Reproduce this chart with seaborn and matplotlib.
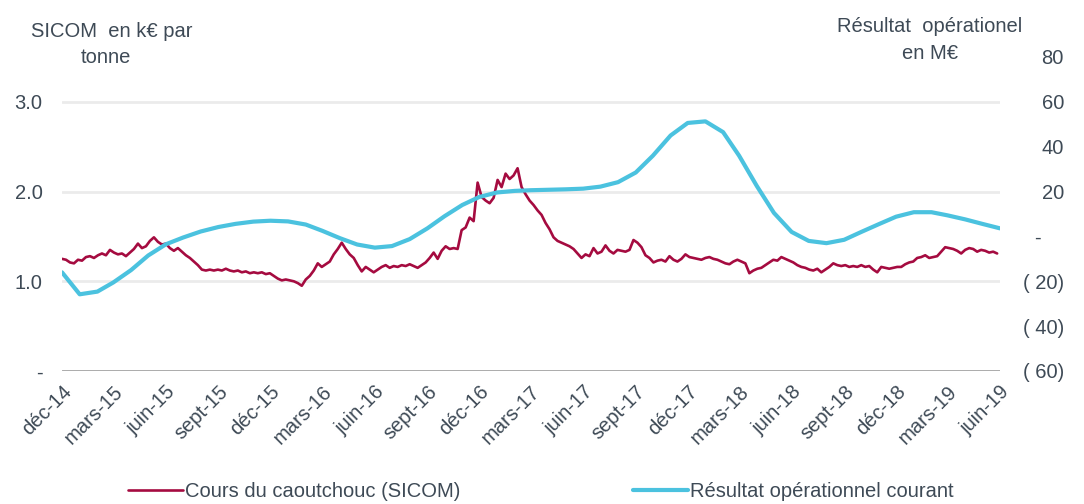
import pandas as pd
import matplotlib.pyplot as plt
import seaborn as sns

# SICOM rubber price, k€ per tonne (weekly, from Dec 2014)
sicom_start = '2014-12-01'
sicom = [
    1.25, 1.24, 1.21, 1.20, 1.24, 1.23, 1.27, 1.28, 1.26, 1.29, 1.31, 1.29, 1.35,
    1.32, 1.30, 1.31, 1.28, 1.32, 1.36, 1.42, 1.37, 1.39, 1.45, 1.49, 1.44, 1.41,
    1.42, 1.37, 1.34, 1.37, 1.33, 1.29, 1.26, 1.22, 1.18, 1.13, 1.12, 1.13, 1.12,
    1.13, 1.12, 1.14, 1.12, 1.11, 1.12, 1.10, 1.11, 1.09, 1.10, 1.09, 1.10, 1.08,
    1.09, 1.06, 1.03, 1.01, 1.02, 1.01, 1.00, 0.98, 0.95, 1.02, 1.06, 1.12, 1.20,
    1.16, 1.19, 1.22, 1.30, 1.36, 1.43, 1.36, 1.30, 1.26, 1.18, 1.11, 1.16, 1.13,
    1.10, 1.13, 1.16, 1.18, 1.15, 1.17, 1.16, 1.18, 1.17, 1.19, 1.17, 1.15, 1.18,
    1.21, 1.26, 1.32, 1.25, 1.34, 1.39, 1.36, 1.37, 1.36, 1.57, 1.60, 1.71, 1.67,
    2.10, 1.94, 1.90, 1.87, 1.93, 2.13, 2.05, 2.20, 2.14, 2.18, 2.26, 2.05, 1.97,
    1.90, 1.85, 1.79, 1.74, 1.65, 1.58, 1.49, 1.45, 1.43, 1.41, 1.39, 1.36, 1.31,
    1.26, 1.30, 1.28, 1.37, 1.31, 1.33, 1.40, 1.34, 1.31, 1.35, 1.34, 1.33, 1.35,
    1.46, 1.43, 1.38, 1.29, 1.26, 1.21, 1.23, 1.24, 1.22, 1.28, 1.24, 1.22, 1.25,
    1.30, 1.27, 1.26, 1.25, 1.24, 1.26, 1.27, 1.25, 1.24, 1.22, 1.20, 1.19, 1.22,
    1.24, 1.22, 1.20, 1.09, 1.12, 1.14, 1.15, 1.18, 1.21, 1.24, 1.23, 1.27, 1.25,
    1.23, 1.21, 1.18, 1.16, 1.15, 1.13, 1.12, 1.14, 1.10, 1.13, 1.16, 1.20, 1.18,
    1.17, 1.18, 1.16, 1.17, 1.16, 1.18, 1.16, 1.17, 1.13, 1.10, 1.16, 1.15, 1.14,
    1.15, 1.16, 1.16, 1.19, 1.21, 1.22, 1.26, 1.27, 1.29, 1.26, 1.27, 1.28, 1.33,
    1.38, 1.37, 1.36, 1.34, 1.31, 1.35, 1.37, 1.36, 1.33, 1.35, 1.34, 1.32, 1.33,
    1.31,
]

# Current operating result, M€ (monthly, from Dec 2014)
resultat_start = '2014-12-01'
resultat = [
    -16, -25.8, -24.6, -20.5, -15, -8.5, -3.5, -0.5, 2.2, 4.2, 5.6, 6.6, 7.0,
    6.7, 5.3, 2.5, -0.8, -3.6, -5.0, -4.3, -1.2, 3.6, 9, 14, 17.6, 19.6,
    20.3, 20.6, 20.8, 21, 21.3, 22.2, 24.2, 28.5, 36, 45, 50.6, 51.3, 46.5, 36,
    22.5, 10.5, 2, -2, -3, -1.5, 2, 5.5, 8.8, 10.8, 10.8, 9.4, 7.6, 5.6, 3.6,
]

x_ticks = pd.date_range('2014-12-01', '2019-06-01', freq='3MS')
x_labels = ['déc-14', 'mars-15', 'juin-15', 'sept-15', 'déc-15', 'mars-16',
            'juin-16', 'sept-16', 'déc-16', 'mars-17', 'juin-17', 'sept-17',
            'déc-17', 'mars-18', 'juin-18', 'sept-18', 'déc-18', 'mars-19', 'juin-19']
left_ticks = [0, 1, 2, 3]
left_labels = ['-', '1.0', '2.0', '3.0']
right_ticks = [-60, -40, -20, 0, 20, 40, 60, 80]
right_labels = ['( 60)', '( 40)', '( 20)', '-    ', '20', '40', '60', '80']

df_sicom = pd.DataFrame({'date': pd.date_range(sicom_start, periods=len(sicom), freq='7D'),
                         'val': sicom})
df_res = pd.DataFrame({'date': pd.date_range(resultat_start, periods=len(resultat), freq='MS'),
                       'val': resultat})

sns.set_theme(style='white')
plt.rcParams['font.family'] = ['Liberation Sans', 'DejaVu Sans']
txt = '#3E4A56'
red = '#A50B40'
blue = '#4BC2DF'
fs = 14.5

fig = plt.figure(figsize=(10.84, 5.04), dpi=100)
ax = fig.add_axes([62 / 1084, 133 / 504, 938 / 1084, 314 / 504])
ax2 = ax.twinx()

sns.lineplot(data=df_sicom, x='date', y='val', ax=ax, color=red, linewidth=1.9,
             label='Cours du caoutchouc (SICOM)')
sns.lineplot(data=df_res, x='date', y='val', ax=ax2, color=blue, linewidth=3,
             solid_joinstyle='round', label='Résultat opérationnel courant')
for a in (ax, ax2):
    if a.get_legend():
        a.get_legend().remove()
    for s in a.spines.values():
        s.set_visible(False)
    a.set_xlabel('')
    a.set_ylabel('')

ax.set_ylim(0, 3.5)
ax2.set_ylim(-60, 80)
ax.set_xlim(x_ticks[0], x_ticks[-1])

ax.set_yticks(left_ticks, left_labels)
ax2.set_yticks(right_ticks, right_labels)
ax.tick_params(axis='y', length=0, pad=14, labelsize=fs, labelcolor=txt)
ax2.tick_params(axis='y', length=0, pad=46, labelsize=fs, labelcolor=txt)
for lab in ax2.get_yticklabels():
    lab.set_horizontalalignment('right')

ax.set_xticks(x_ticks, x_labels, rotation=45, ha='right', rotation_mode='anchor')
ax.tick_params(axis='x', length=0, pad=8, labelsize=fs, labelcolor=txt)

for v in left_ticks[1:]:
    ax.axhline(v, color='#EBEBEB', linewidth=2, zorder=0)
ax.axhline(0, color='#A3A3A3', linewidth=2, zorder=0)

fig.text(112 / 1084, 1 - 37 / 504, 'SICOM  en k€ par', ha='center', va='baseline',
         fontsize=fs, color=txt)
fig.text(106 / 1084, 1 - 63 / 504, 'tonne', ha='center', va='baseline',
         fontsize=fs, color=txt)
fig.text(930 / 1084, 1 - 32 / 504, 'Résultat  opérationel', ha='center', va='baseline',
         fontsize=fs, color=txt)
fig.text(930 / 1084, 1 - 59 / 504, 'en M€', ha='center', va='baseline',
         fontsize=fs, color=txt)

h1, l1 = ax.get_legend_handles_labels()
h2, l2 = ax2.get_legend_handles_labels()
leg = fig.legend(h1 + h2, l1 + l2, loc='center', bbox_to_anchor=(0.499, 0.024),
                 ncol=2, frameon=False, fontsize=fs, handlelength=2.7,
                 handletextpad=0.1, columnspacing=8.6, labelcolor=txt)

fig.savefig('out.png', dpi=100)
